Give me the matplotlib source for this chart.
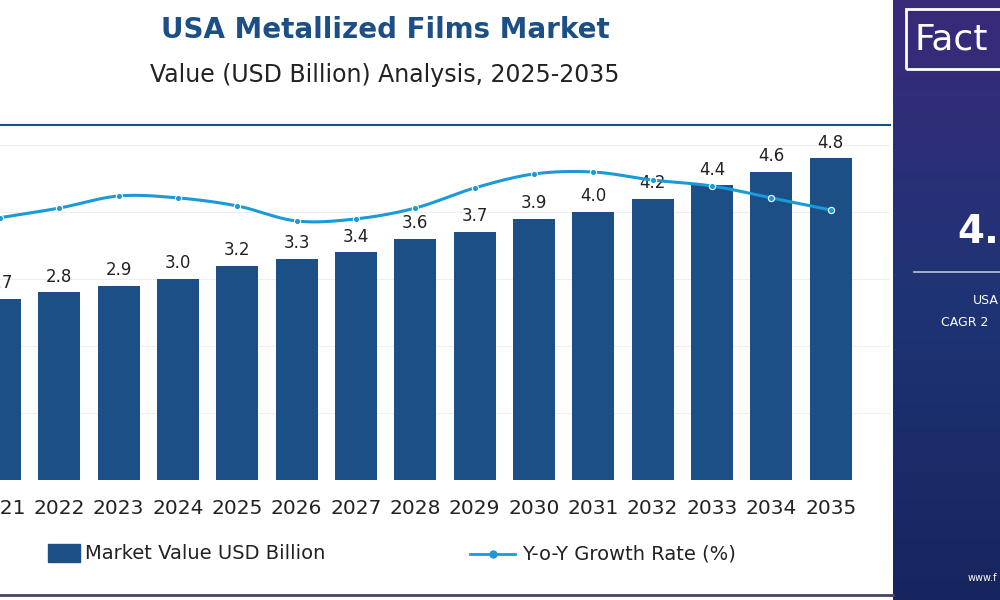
import numpy as np
import matplotlib
matplotlib.use("Agg")
import matplotlib.pyplot as plt
from matplotlib.patches import Rectangle
from matplotlib.lines import Line2D
from matplotlib.colors import LinearSegmentedColormap

years = ["2021","2022","2023","2024","2025","2026","2027","2028","2029","2030","2031","2032","2033","2034","2035"]
values = [2.7,2.8,2.9,3.0,3.2,3.3,3.4,3.6,3.7,3.9,4.0,4.2,4.4,4.6,4.8]
value_labels = ["2.7","2.8","2.9","3.0","3.2","3.3","3.4","3.6","3.7","3.9","4.0","4.2","4.4","4.6","4.8"]
growth = [3.1,3.65,4.34,4.23,3.77,2.91,3.03,3.65,4.8,5.6,5.71,5.25,4.91,4.23,3.54]

BAR = "#1b4f85"
LINE = "#1a9ad6"

fig = plt.figure(figsize=(10,6), dpi=100)
fig.patch.set_facecolor("white")

ax = fig.add_axes([0.0, 0.2, 0.89, 0.5917])
x = np.arange(len(years))
ax.bar(x, values, width=0.71, color=BAR, zorder=2)
for xi, v, l in zip(x, values, value_labels):
    ax.text(xi, v + 0.1, l, ha="center", va="bottom", fontsize=12, color="#222222", zorder=5)
ax.set_xlim(0.0, 15.0)
ax.set_ylim(0, 5.3)
ax.set_yticks([1,2,3,4,5])
ax.yaxis.grid(True, color="#eeeeee", lw=0.8, zorder=0)
ax.set_yticklabels([])
ax.tick_params(axis="y", length=0)
ax.set_xticks(x)
ax.set_xticklabels(years, fontsize=14.5, color="#222222")
ax.tick_params(axis="x", length=0, pad=14)
for s in ["left","right","bottom"]:
    ax.spines[s].set_visible(False)
ax.spines["top"].set_color("#1b4f85")
ax.spines["top"].set_linewidth(1.5)

ax2 = ax.twinx()
g = np.array(growth, dtype=float)
m = np.gradient(g)
xs, ys = [], []
for i in range(len(g)-1):
    t = np.linspace(0, 1, 20)
    h00 = 2*t**3-3*t**2+1; h10 = t**3-2*t**2+t; h01 = -2*t**3+3*t**2; h11 = t**3-t**2
    xs.extend(i+t); ys.extend(h00*g[i]+h10*m[i]+h01*g[i+1]+h11*m[i+1])
ax2.plot(xs, ys, color=LINE, lw=2.2, zorder=3)
ax2.plot(x, g, "o", color=LINE, ms=4.5, mec="white", mew=0.8, zorder=4)
ax2.set_ylim(-11.9, 8.4)
ax2.axis("off")

fig.text(0.385, 0.95, "USA Metallized Films Market", ha="center", va="center",
         fontsize=20, fontweight="bold", color="#1b4f85")
fig.text(0.385, 0.875, "Value (USD Billion) Analysis, 2025-2035", ha="center", va="center",
         fontsize=17, color="#222222")

fig.patches.append(Rectangle((0.048, 0.063), 0.032, 0.03, transform=fig.transFigure, color=BAR))
fig.text(0.085, 0.077, "Market Value USD Billion", va="center", fontsize=14, color="#222222")
fig.lines.append(Line2D([0.47, 0.515], [0.077, 0.077], transform=fig.transFigure, color=LINE, lw=2))
fig.lines.append(Line2D([0.4925], [0.077], transform=fig.transFigure, color=LINE, marker="o", ms=5))
fig.text(0.522, 0.077, "Y-o-Y Growth Rate (%)", va="center", fontsize=14, color="#222222")

pax = fig.add_axes([0.893, 0.0, 0.107, 1.0])
grad = np.linspace(0, 1, 256).reshape(-1, 1)
cmap = LinearSegmentedColormap.from_list("p", ["#3a2a7a", "#1e3475", "#17255e"])
pax.imshow(grad, aspect="auto", cmap=cmap, extent=[0, 1, 0, 1])
pax.set_xlim(0, 1); pax.set_ylim(0, 1); pax.axis("off")
pax.add_patch(Rectangle((0.12, 0.885), 1.0, 0.1, fill=False, ec="white", lw=2))
pax.text(0.2, 0.935, "Fact", color="white", fontsize=26, va="center", ha="left")
pax.text(0.6, 0.613, "4.", color="white", fontsize=28, fontweight="bold", va="center", ha="left")
pax.plot([0.2, 1.0], [0.547, 0.547], color="white", lw=1.2, alpha=0.7)
pax.text(0.75, 0.5, "USA", color="white", fontsize=9, va="center", ha="left")
pax.text(0.45, 0.463, "CAGR 2", color="white", fontsize=9, va="center", ha="left")
pax.text(0.7, 0.037, "www.f", color="white", fontsize=7, va="center", ha="left")

fig.lines.append(Line2D([0, 0.893], [0.008, 0.008], transform=fig.transFigure, color="#444466", lw=2))

fig.savefig("out.png", dpi=100)
